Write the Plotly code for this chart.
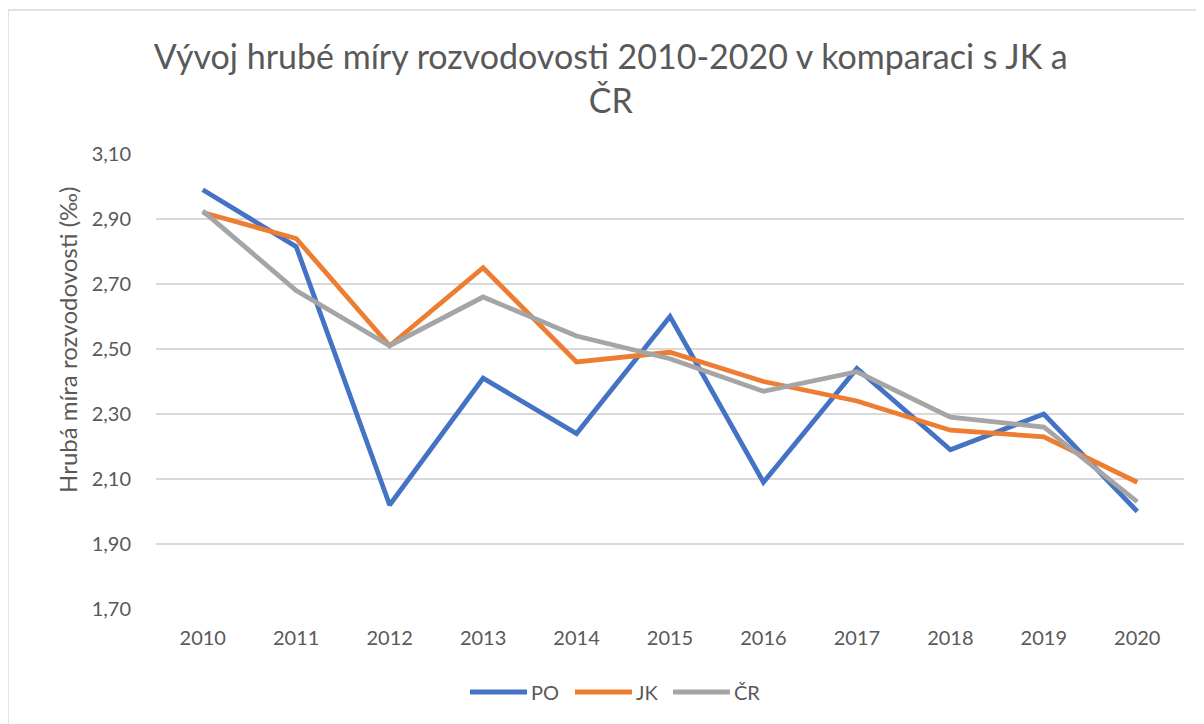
import plotly.graph_objects as go

years = ["2010", "2011", "2012", "2013", "2014", "2015", "2016", "2017", "2018", "2019", "2020"]
po = [2.99, 2.815, 2.02, 2.41, 2.24, 2.60, 2.09, 2.44, 2.19, 2.30, 2.00]
jk = [2.92, 2.84, 2.51, 2.75, 2.46, 2.49, 2.40, 2.34, 2.25, 2.23, 2.09]
cr = [2.925, 2.68, 2.51, 2.66, 2.54, 2.47, 2.37, 2.43, 2.29, 2.26, 2.03]
series_names = ["PO", "JK", "ČR"]
series_colors = ["#4472C4", "#ED7D31", "#A5A5A5"]
y_ticks = [1.70, 1.90, 2.10, 2.30, 2.50, 2.70, 2.90, 3.10]
y_tick_text = ["1,70", "1,90", "2,10", "2,30", "2,50", "2,70", "2,90", "3,10"]

font_family = "Lato, 'Open Sans', sans-serif"
W, H = 1196, 716
L, T, R, B = 148, 146, 20, 115
PW, PH = W - L - R, H - T - B


def px(xf):
    return (xf - L) / PW


def py(yf):
    return 1 - (yf - T) / PH


fig = go.Figure()
for name, vals, col in zip(series_names, [po, jk, cr], series_colors):
    fig.add_trace(go.Scatter(x=years, y=vals, name=name, mode="lines",
                             line=dict(color=col, width=4.8)))

fig.update_layout(
    width=W, height=H,
    paper_bgcolor="white", plot_bgcolor="white",
    margin=dict(l=L, r=R, t=T, b=B),
    font=dict(family=font_family, color="#595959"),
    title=dict(text="Vývoj hrubé míry rozvodovosti 2010-2020 v komparaci s JK a<br>ČR",
               x=0.504, xanchor="center", y=0.915, yanchor="middle",
               font=dict(size=34, color="#595959", family=font_family)),
    xaxis=dict(type="category", showgrid=False, showline=False, ticks="",
               tickfont=dict(size=20, color="#595959"), range=[-0.5, 10.5],
               ticklabelstandoff=15),
    yaxis=dict(range=[1.70, 3.10], tickvals=y_ticks, ticktext=y_tick_text,
               showgrid=True, gridcolor="#D9D9D9", gridwidth=1.5, zeroline=False,
               showline=False, ticks="", tickfont=dict(size=20, color="#595959"),
               ticklabelstandoff=24),
    showlegend=False,
)

# axis title (offset upward like the reference)
fig.add_annotation(text="Hrubá míra rozvodovosti (‰)", textangle=-90, showarrow=False,
                   xref="paper", yref="paper", x=px(59), y=py(332),
                   xanchor="center", yanchor="middle",
                   font=dict(size=24, color="#595959", family=font_family))

# legend drawn below the plot
leg_y = py(684)
leg_x0 = [462, 567, 665]
for name, col, x0 in zip(series_names, series_colors, leg_x0):
    fig.add_shape(type="line", xref="paper", yref="paper",
                  x0=px(x0), x1=px(x0 + 57), y0=leg_y, y1=leg_y,
                  line=dict(color=col, width=4.8))
    fig.add_annotation(text=name, showarrow=False, xref="paper", yref="paper",
                       x=px(x0 + 59), y=leg_y, xanchor="left", yanchor="middle",
                       font=dict(size=20, color="#595959", family=font_family))

fig.add_shape(type="rect", xref="paper", yref="paper",
              x0=-L / PW, x1=1.1, y0=-0.5, y1=1 + (T - 2) / PH,
              line=dict(color="#D9D9D9", width=1.5), layer="below")

fig.write_html("out.html")
